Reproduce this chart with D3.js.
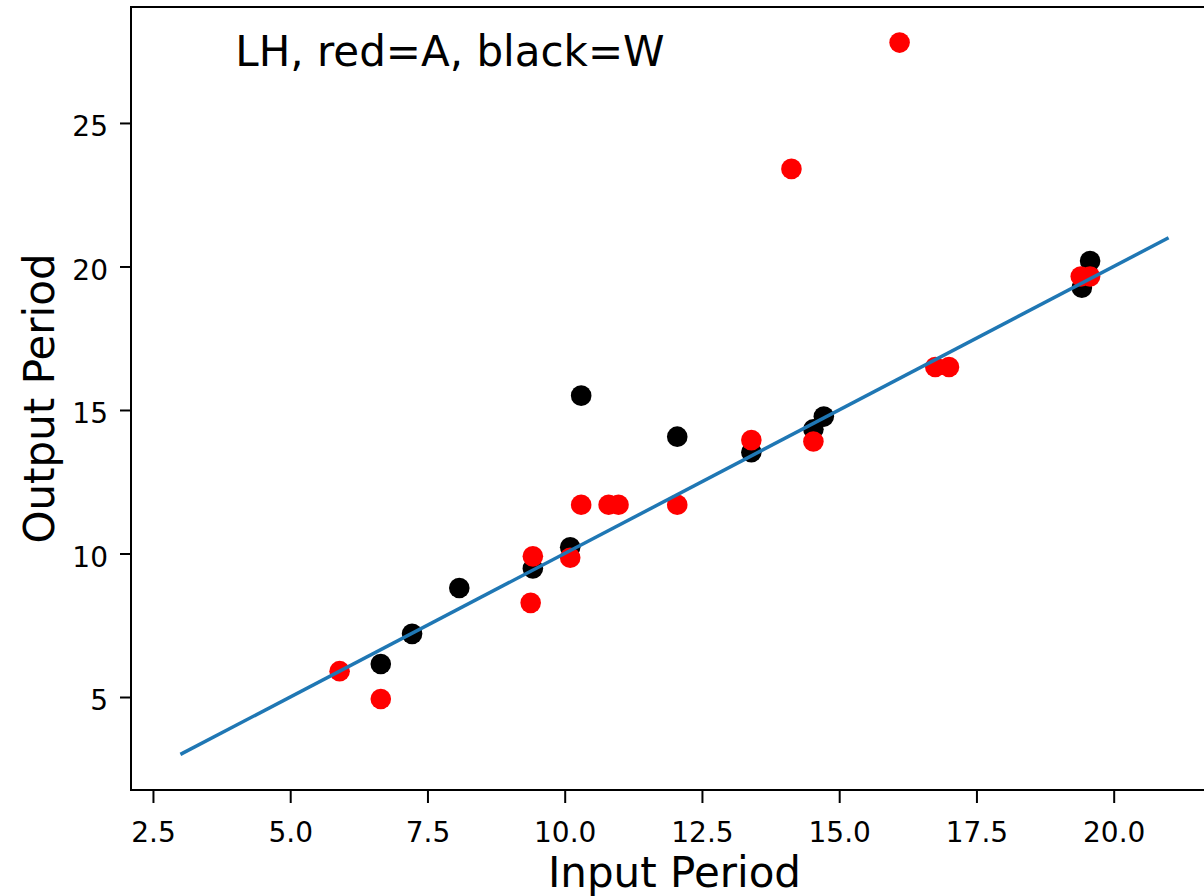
<!DOCTYPE html>
<html>
<head>
<meta charset="utf-8">
<script src="https://cdn.jsdelivr.net/npm/d3@7"></script>
<style>
	body { margin: 0; background: white; }
	text { font-family: "DejaVu Sans", sans-serif; fill: black; }
</style>
</head>
<body>
<svg class="chart"></svg>
<script>
// input and output periods, red = A
var aInput  = [5.9, 6.65, 9.38, 9.42, 10.1, 10.3, 10.8, 10.98, 12.05, 13.4, 14.53, 14.13, 16.1, 16.75, 17.0, 19.4, 19.57];
var aOutput = [5.9, 4.93, 8.28, 9.9, 9.85, 11.7, 11.7, 11.7, 11.7, 13.95, 13.9, 23.4, 27.8, 16.5, 16.5, 19.65, 19.65];

// black = W
var wInput  = [6.65, 7.22, 8.08, 9.42, 10.1, 10.3, 12.05, 13.4, 14.53, 14.72, 19.42, 19.57];
var wOutput = [6.15, 7.2, 8.8, 9.48, 10.22, 15.5, 14.07, 13.53, 14.33, 14.77, 19.26, 20.19];

// reference line
var lineX = [3, 21];
var lineY = [3, 21];

var xTicks = [2.5, 5.0, 7.5, 10.0, 12.5, 15.0, 17.5, 20.0];
var yTicks = [5, 10, 15, 20, 25];

window.onload = function() {
	var margin = {top: 7, right: -14, bottom: 106, left: 131},
	width = 1204 - margin.left - margin.right,
	height = 896 - margin.top - margin.bottom;

	var svg = d3.select(".chart")
		.attr("width", 1204)
		.attr("height", 896)
		.append("g")
			.attr("transform", "translate(" + margin.left + "," + margin.top + ")");

	var x = d3.scaleLinear().domain([2.1, 21.9]).range([0, width]);
	var y = d3.scaleLinear().domain([1.76, 29.04]).range([height, 0]);

	// x axis
	var xAxis = svg.append("g")
		.attr("transform", "translate(0," + height + ")")
		.call(d3.axisBottom(x).tickValues(xTicks).tickFormat(d3.format(".1f")).tickSize(13).tickSizeOuter(0));
	xAxis.select(".domain").remove();
	xAxis.selectAll("line").attr("stroke-width", 2);
	xAxis.selectAll("text")
		.attr("y", 52)
		.attr("dy", null)
		.style("font-size", "28px")
		.style("font-family", "DejaVu Sans");

	// y axis
	var yAxis = svg.append("g")
		.call(d3.axisLeft(y).tickValues(yTicks).tickSize(11).tickPadding(12).tickSizeOuter(0));
	yAxis.select(".domain").remove();
	yAxis.selectAll("line").attr("stroke-width", 2);
	yAxis.selectAll("text")
		.attr("dy", "0.45em")
		.style("font-size", "28px")
		.style("font-family", "DejaVu Sans");

	// black points first, red on top
	svg.append("g").selectAll("circle")
		.data(wInput)
		.enter().append("circle")
			.attr("cx", function(d) { return x(d); })
			.attr("cy", function(d, i) { return y(wOutput[i]); })
			.attr("r", 10.3)
			.style("fill", "black");

	svg.append("g").selectAll("circle")
		.data(aInput)
		.enter().append("circle")
			.attr("cx", function(d) { return x(d); })
			.attr("cy", function(d, i) { return y(aOutput[i]); })
			.attr("r", 10.3)
			.style("fill", "red");

	// fit line
	var line = d3.line()
		.x(function(d) { return x(d); })
		.y(function(d, i) { return y(lineY[i]); });
	svg.append("path")
		.attr("d", line(lineX))
		.attr("fill", "none")
		.attr("stroke", "#1f77b4")
		.attr("stroke-width", 3.5);

	// frame
	svg.append("rect")
		.attr("width", width)
		.attr("height", height)
		.attr("fill", "none")
		.attr("stroke", "black")
		.attr("stroke-width", 2);

	// annotation
	svg.append("text")
		.attr("x", x(4))
		.attr("y", y(27))
		.style("font-size", "42px")
		.text("LH, red=A, black=W");

	// axis labels
	svg.append("text")
		.attr("x", width / 2)
		.attr("y", height + 97)
		.attr("text-anchor", "middle")
		.style("font-size", "42px")
		.text("Input Period");

	svg.append("text")
		.attr("transform", "translate(" + (54 - margin.left) + "," + (height / 2) + ") rotate(-90)")
		.attr("text-anchor", "middle")
		.style("font-size", "42px")
		.text("Output Period");
}
</script>
</body>
</html>
